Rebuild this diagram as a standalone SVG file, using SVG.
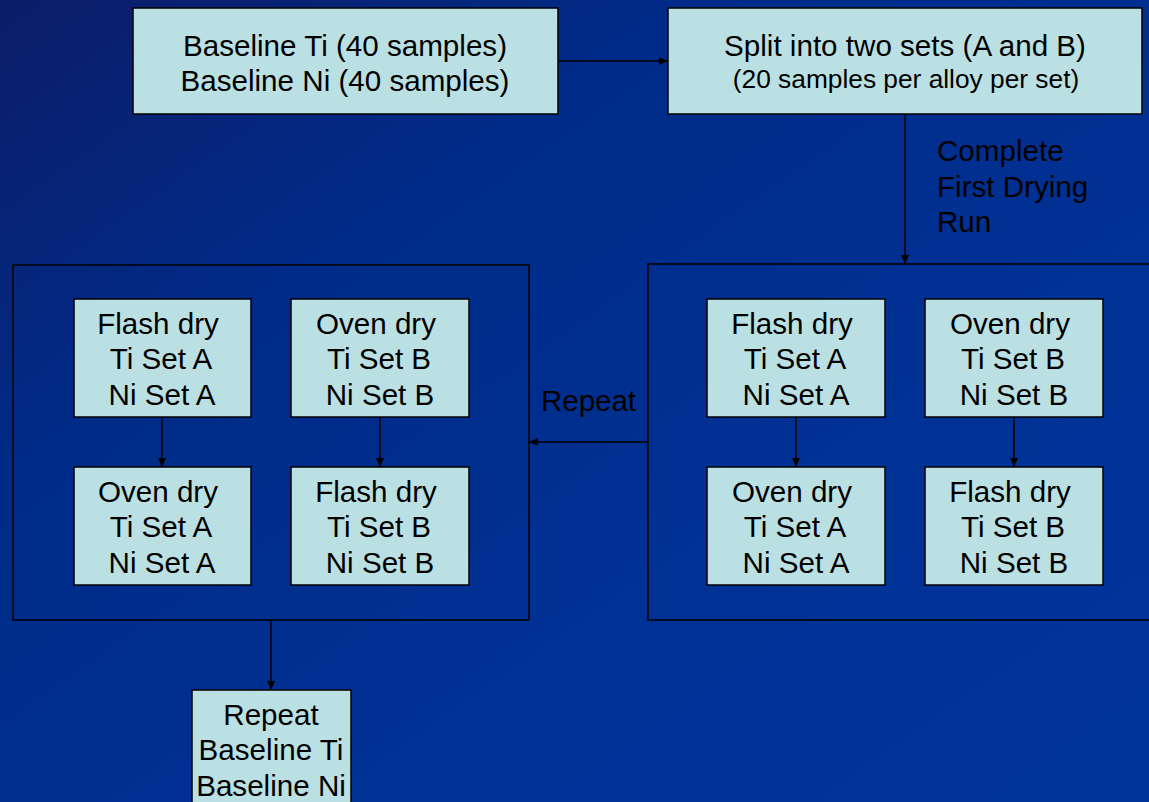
<svg xmlns="http://www.w3.org/2000/svg" width="1149" height="802" viewBox="0 0 1149 802">
<defs>
<linearGradient id="bg" x1="0" y1="0" x2="1" y2="1">
<stop offset="0" stop-color="#0c1d68"/>
<stop offset="0.3" stop-color="#002b88"/>
<stop offset="0.7" stop-color="#003296"/>
<stop offset="1" stop-color="#00359c"/>
</linearGradient>
<marker id="arr" markerWidth="10" markerHeight="10" refX="9" refY="5" orient="auto" markerUnits="userSpaceOnUse">
<path d="M0,1 L9,5 L0,9 Z" fill="#000"/>
</marker>
<style>
.box{fill:#bbe0e3;stroke:#000;stroke-width:1.5}
.grp{fill:none;stroke:#000;stroke-width:1.5}
.t{font-family:"Liberation Sans",Arial,sans-serif;font-size:29.6px;fill:#000;text-anchor:middle}
.s{font-size:26.3px}
.l{font-family:"Liberation Sans",Arial,sans-serif;font-size:29.6px;fill:#000}
.c{stroke:#000;stroke-width:1.5;fill:none;marker-end:url(#arr)}
</style>
</defs>
<rect width="1149" height="802" fill="url(#bg)"/>

<g id="group-left"><rect class="grp" x="13" y="265" width="516" height="355"/></g>
<g id="group-right"><rect class="grp" x="648" y="264" width="504" height="356"/></g>

<g id="baseline">
<rect class="box" x="133" y="8" width="425" height="106"/>
<text class="t" x="345" y="56">Baseline Ti (40 samples)</text>
<text class="t" x="345" y="91">Baseline Ni (40 samples)</text>
</g>
<g id="split">
<rect class="box" x="668" y="8" width="474" height="106"/>
<text class="t" x="905" y="56">Split into two sets (A and B)</text>
<text class="t s" x="906" y="88">(20 samples per alloy per set)</text>
</g>

<g id="L-flashA">
<rect class="box" x="74" y="299" width="177" height="118"/>
<text class="t" x="158" y="334">Flash dry</text>
<text class="t" x="161" y="369">Ti Set A</text>
<text class="t" x="162" y="405">Ni Set A</text>
</g>
<g id="L-ovenB">
<rect class="box" x="291" y="299" width="178" height="118"/>
<text class="t" x="376" y="334">Oven dry</text>
<text class="t" x="379" y="369">Ti Set B</text>
<text class="t" x="380" y="405">Ni Set B</text>
</g>
<g id="L-ovenA">
<rect class="box" x="74" y="467" width="177" height="118"/>
<text class="t" x="158" y="502">Oven dry</text>
<text class="t" x="161" y="537">Ti Set A</text>
<text class="t" x="162" y="573">Ni Set A</text>
</g>
<g id="L-flashB">
<rect class="box" x="291" y="467" width="178" height="118"/>
<text class="t" x="376" y="502">Flash dry</text>
<text class="t" x="379" y="537">Ti Set B</text>
<text class="t" x="380" y="573">Ni Set B</text>
</g>

<g id="R-flashA">
<rect class="box" x="707" y="299" width="178" height="118"/>
<text class="t" x="792" y="334">Flash dry</text>
<text class="t" x="795" y="369">Ti Set A</text>
<text class="t" x="796" y="405">Ni Set A</text>
</g>
<g id="R-ovenB">
<rect class="box" x="925" y="299" width="178" height="118"/>
<text class="t" x="1010" y="334">Oven dry</text>
<text class="t" x="1013" y="369">Ti Set B</text>
<text class="t" x="1014" y="405">Ni Set B</text>
</g>
<g id="R-ovenA">
<rect class="box" x="707" y="467" width="178" height="118"/>
<text class="t" x="792" y="502">Oven dry</text>
<text class="t" x="795" y="537">Ti Set A</text>
<text class="t" x="796" y="573">Ni Set A</text>
</g>
<g id="R-flashB">
<rect class="box" x="925" y="467" width="178" height="118"/>
<text class="t" x="1010" y="502">Flash dry</text>
<text class="t" x="1013" y="537">Ti Set B</text>
<text class="t" x="1014" y="573">Ni Set B</text>
</g>

<g id="repeat-baseline">
<rect class="box" x="192" y="690" width="159" height="120"/>
<text class="t" x="271" y="725">Repeat</text>
<text class="t" x="271" y="760">Baseline Ti</text>
<text class="t" x="271" y="796">Baseline Ni</text>
</g>

<g id="connectors">
<line class="c" x1="558" y1="61" x2="668" y2="61"/>
<line class="c" x1="905" y1="114" x2="905" y2="264"/>
<line class="c" x1="648" y1="442" x2="529" y2="442"/>
<line class="c" x1="162" y1="417" x2="162" y2="467"/>
<line class="c" x1="380" y1="417" x2="380" y2="467"/>
<line class="c" x1="796" y1="417" x2="796" y2="467"/>
<line class="c" x1="1014" y1="417" x2="1014" y2="467"/>
<line class="c" x1="271" y1="620" x2="271" y2="690"/>
<text class="l" x="937" y="161">Complete</text>
<text class="l" x="937" y="197">First Drying</text>
<text class="l" x="937" y="232">Run</text>
<text class="l" x="541" y="411" textLength="95" lengthAdjust="spacingAndGlyphs">Repeat</text>
</g>
</svg>
